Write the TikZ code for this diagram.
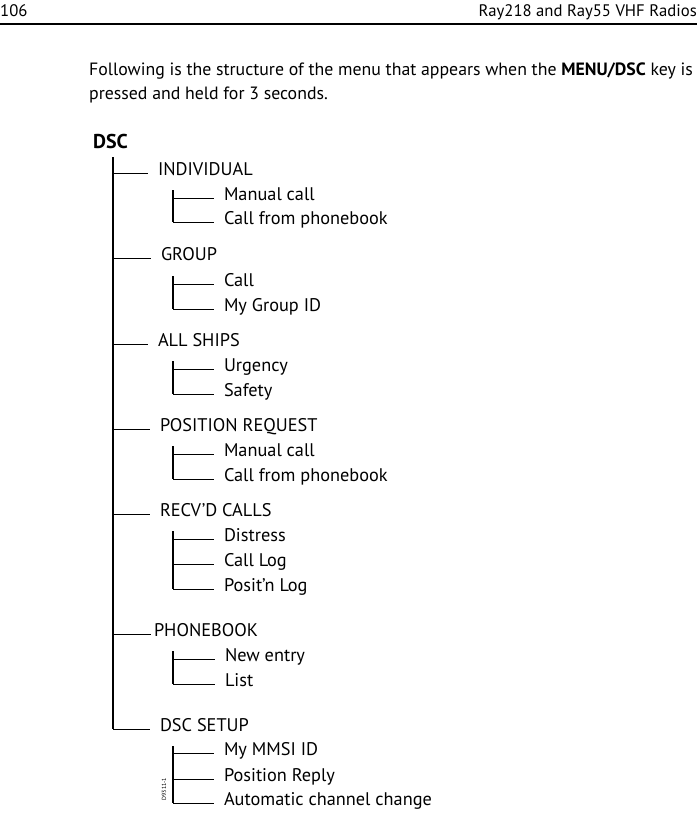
\documentclass[tikz,border=0pt]{standalone}
\usepackage{fontspec}
\setmainfont{PT Sans}
\usetikzlibrary{positioning}
\tikzstyle{menu} = [anchor=mid west, inner sep=0, outer xsep=10pt, font=\fontsize{18.3}{22}\selectfont]
\tikzstyle{para} = [anchor=base west, inner sep=0, font=\fontsize{17.8}{24}\selectfont]
\tikzstyle{trunk} = [line width=1.6pt]
\tikzstyle{subtrunk} = [line width=1.2pt]
\tikzstyle{branch} = [line width=0.7pt]

\begin{document}
\begin{tikzpicture}[x=1pt,y=-1pt]
	\useasboundingbox (0,0) rectangle (697,815);
	% page header
	\node[anchor=base west, inner sep=0, font=\fontsize{16.7}{20}\selectfont] (page) at (0,16) {106};
	\node[anchor=base east, inner sep=0, font=\fontsize{16.7}{20}\selectfont] (book) at (697,16) {Ray218 and Ray55 VHF Radios};
	\draw[line width=1.2pt] (page.south west |- 0,24) -- (book.south east |- 0,24);
	\node (intro1) at (89,75) [para] {Following is the structure of the menu that appears when the \textbf{MENU/DSC} key is};
	\node (intro2) at (89,99) [para] {pressed and held for 3 seconds.};

	\node[anchor=base west, inner sep=0, font=\bfseries\fontsize{20}{22}\selectfont] (dsc) at (93,148) {DSC};
	\coordinate (top) at (113,157);

	\node (indiv) at(148,173) [menu] {INDIVIDUAL};
	\node (indiv1) at(214,198) [menu] {Manual call};
	\node (indiv2) at(214,222) [menu] {Call from phonebook};

	\node (group) at(151,258) [menu] {GROUP};
	\node (group1) at(214,284) [menu] {Call};
	\node (group2) at(214,309) [menu] {My Group ID};

	\node (ships) at(148,344) [menu] {ALL SHIPS};
	\node (ships1) at(214,369) [menu] {Urgency};
	\node (ships2) at(214,394) [menu] {Safety};

	\node (posreq) at(150,429) [menu] {POSITION REQUEST};
	\node (posreq1) at(214,454) [menu] {Manual call};
	\node (posreq2) at(214,479) [menu] {Call from phonebook};

	\node (recvd) at(150,514) [menu] {RECV'D CALLS};
	\node (recvd1) at(214,539) [menu] {Distress};
	\node (recvd2) at(214,564) [menu] {Call Log};
	\node (recvd3) at(214,589) [menu] {Posit'n Log};

	\node (phbook) at(151,634) [menu, outer xsep=3pt] {PHONEBOOK};
	\node (phbook1) at(215,659) [menu] {New entry};
	\node (phbook2) at(215,684) [menu] {List};

	\node (setup) at(150,729) [menu] {DSC SETUP};
	\node (setup1) at(214,753) [menu] {My MMSI ID};
	\node (setup2) at(214,779) [menu] {Position Reply};
	\node (setup3) at(214,803) [menu] {Automatic channel change};

	\node[rotate=90, inner sep=0, font=\fontsize{6}{7}\selectfont] (fig) at (164,789) {D9311-1};

	% main trunk
	\draw[trunk] (top) -- (top |- setup.mid west);
	\foreach \n in {indiv,group,ships,posreq,recvd,phbook,setup}
		\draw[branch] (top |- \n.mid west) -- (\n.mid west);

	% sub trunks
	\coordinate (s1) at (173,190);
	\coordinate (s2) at (173,276);
	\coordinate (s3) at (173,361);
	\coordinate (s4) at (173,446);
	\coordinate (s5) at (173,531);
	\coordinate (s6) at (173,651);
	\coordinate (s7) at (173,746);
	\draw[subtrunk] (s1) -- (s1 |- indiv2.mid west);
	\draw[subtrunk] (s2) -- (s2 |- group2.mid west);
	\draw[subtrunk] (s3) -- (s3 |- ships2.mid west);
	\draw[subtrunk] (s4) -- (s4 |- posreq2.mid west);
	\draw[subtrunk] (s5) -- (s5 |- recvd3.mid west);
	\draw[subtrunk] (s6) -- (s6 |- phbook2.mid west);
	\draw[subtrunk] (s7) -- (s7 |- setup3.mid west);
	\foreach \n in {indiv1,indiv2}  \draw[branch] (s1 |- \n.mid west) -- (\n.mid west);
	\foreach \n in {group1,group2}  \draw[branch] (s2 |- \n.mid west) -- (\n.mid west);
	\foreach \n in {ships1,ships2}  \draw[branch] (s3 |- \n.mid west) -- (\n.mid west);
	\foreach \n in {posreq1,posreq2} \draw[branch] (s4 |- \n.mid west) -- (\n.mid west);
	\foreach \n in {recvd1,recvd2,recvd3} \draw[branch] (s5 |- \n.mid west) -- (\n.mid west);
	\foreach \n in {phbook1,phbook2} \draw[branch] (s6 |- \n.mid west) -- (\n.mid west);
	\foreach \n in {setup1,setup2,setup3} \draw[branch] (s7 |- \n.mid west) -- (\n.mid west);
\end{tikzpicture}
\end{document}
